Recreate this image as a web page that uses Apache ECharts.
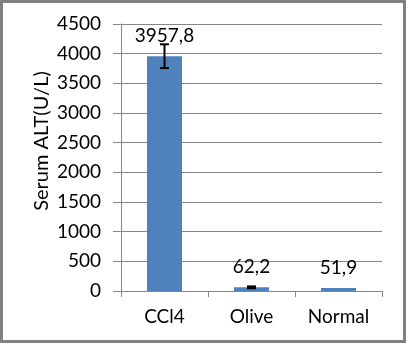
<!DOCTYPE html>
<html>
<head>
<meta charset="utf-8">
<script src="https://cdn.jsdelivr.net/npm/echarts@6/dist/echarts.min.js"></script>
<style>
  html, body { margin: 0; padding: 0; background: #fff; }
  #frame {
    position: absolute; left: 0; top: 0; width: 406px; height: 343px;
    box-sizing: border-box; border: 3px solid #808080; background: #fff;
  }
  #chart { position: absolute; left: -3px; top: -3px; width: 406px; height: 343px; }
</style>
</head>
<body>
<div id="frame"><div id="chart"></div></div>
<script>
// Serum ALT per group, mean with standard deviation
const categories = ['CCl4', 'Olive', 'Normal'];
const altMean = [3957.8, 62.2, 51.9];
const altSd = [200, 15, 0];
const yTicks = { min: 0, max: 4500, interval: 500 };

const FONT = 'Lato';
const fmt = v => v.toFixed(1).replace('.', ',');

const chart = echarts.init(document.getElementById('chart'));
chart.setOption({
  animation: false,
  grid: { left: 121, right: 24, top: 24, bottom: 52 },
  xAxis: {
    type: 'category',
    data: categories,
    axisLine: { lineStyle: { color: '#868686', width: 1 } },
    axisTick: { show: true, length: 6, alignWithLabel: false, lineStyle: { color: '#868686' } },
    axisLabel: { color: '#000', fontFamily: FONT, fontSize: 19, margin: 16 }
  },
  yAxis: {
    type: 'value',
    min: yTicks.min, max: yTicks.max, interval: yTicks.interval,
    axisLine: { show: true, lineStyle: { color: '#868686', width: 1 } },
    axisTick: { show: true, length: 8, inside: false, lineStyle: { color: '#868686' } },
    splitLine: { lineStyle: { color: '#868686', width: 1 } },
    axisLabel: { color: '#000', fontFamily: FONT, fontSize: 19, margin: 20, formatter: v => String(v) }
  },
  graphic: [{
    type: 'text',
    x: 42, y: 141,
    rotation: Math.PI / 2,
    style: {
      text: 'Serum ALT(U/L)',
      fontFamily: FONT, fontSize: 20, fill: '#000',
      align: 'center', verticalAlign: 'middle'
    }
  }],
  series: [
    {
      type: 'bar',
      data: altMean,
      barWidth: 35,
      itemStyle: { color: '#4F81BD' },
      label: {
        show: true, position: 'top', distance: 11,
        color: '#000', fontFamily: FONT, fontSize: 19,
        formatter: p => fmt(p.value)
      },
      z: 2
    },
    {
      type: 'custom',
      data: altMean.map((m, i) => [i, m - altSd[i], m + altSd[i], altSd[i]]),
      renderItem: (params, api) => {
        if (!api.value(3)) return null;
        const lo = api.coord([api.value(0), api.value(1)]);
        const hi = api.coord([api.value(0), api.value(2)]);
        const half = 4.5;
        const style = { stroke: '#000', lineWidth: 2 };
        return {
          type: 'group',
          children: [
            { type: 'line', shape: { x1: hi[0], y1: hi[1], x2: lo[0], y2: lo[1] }, style },
            { type: 'line', shape: { x1: hi[0] - half, y1: hi[1], x2: hi[0] + half, y2: hi[1] }, style },
            { type: 'line', shape: { x1: lo[0] - half, y1: lo[1], x2: lo[0] + half, y2: lo[1] }, style }
          ]
        };
      },
      z: 3
    }
  ]
});
</script>
</body>
</html>
